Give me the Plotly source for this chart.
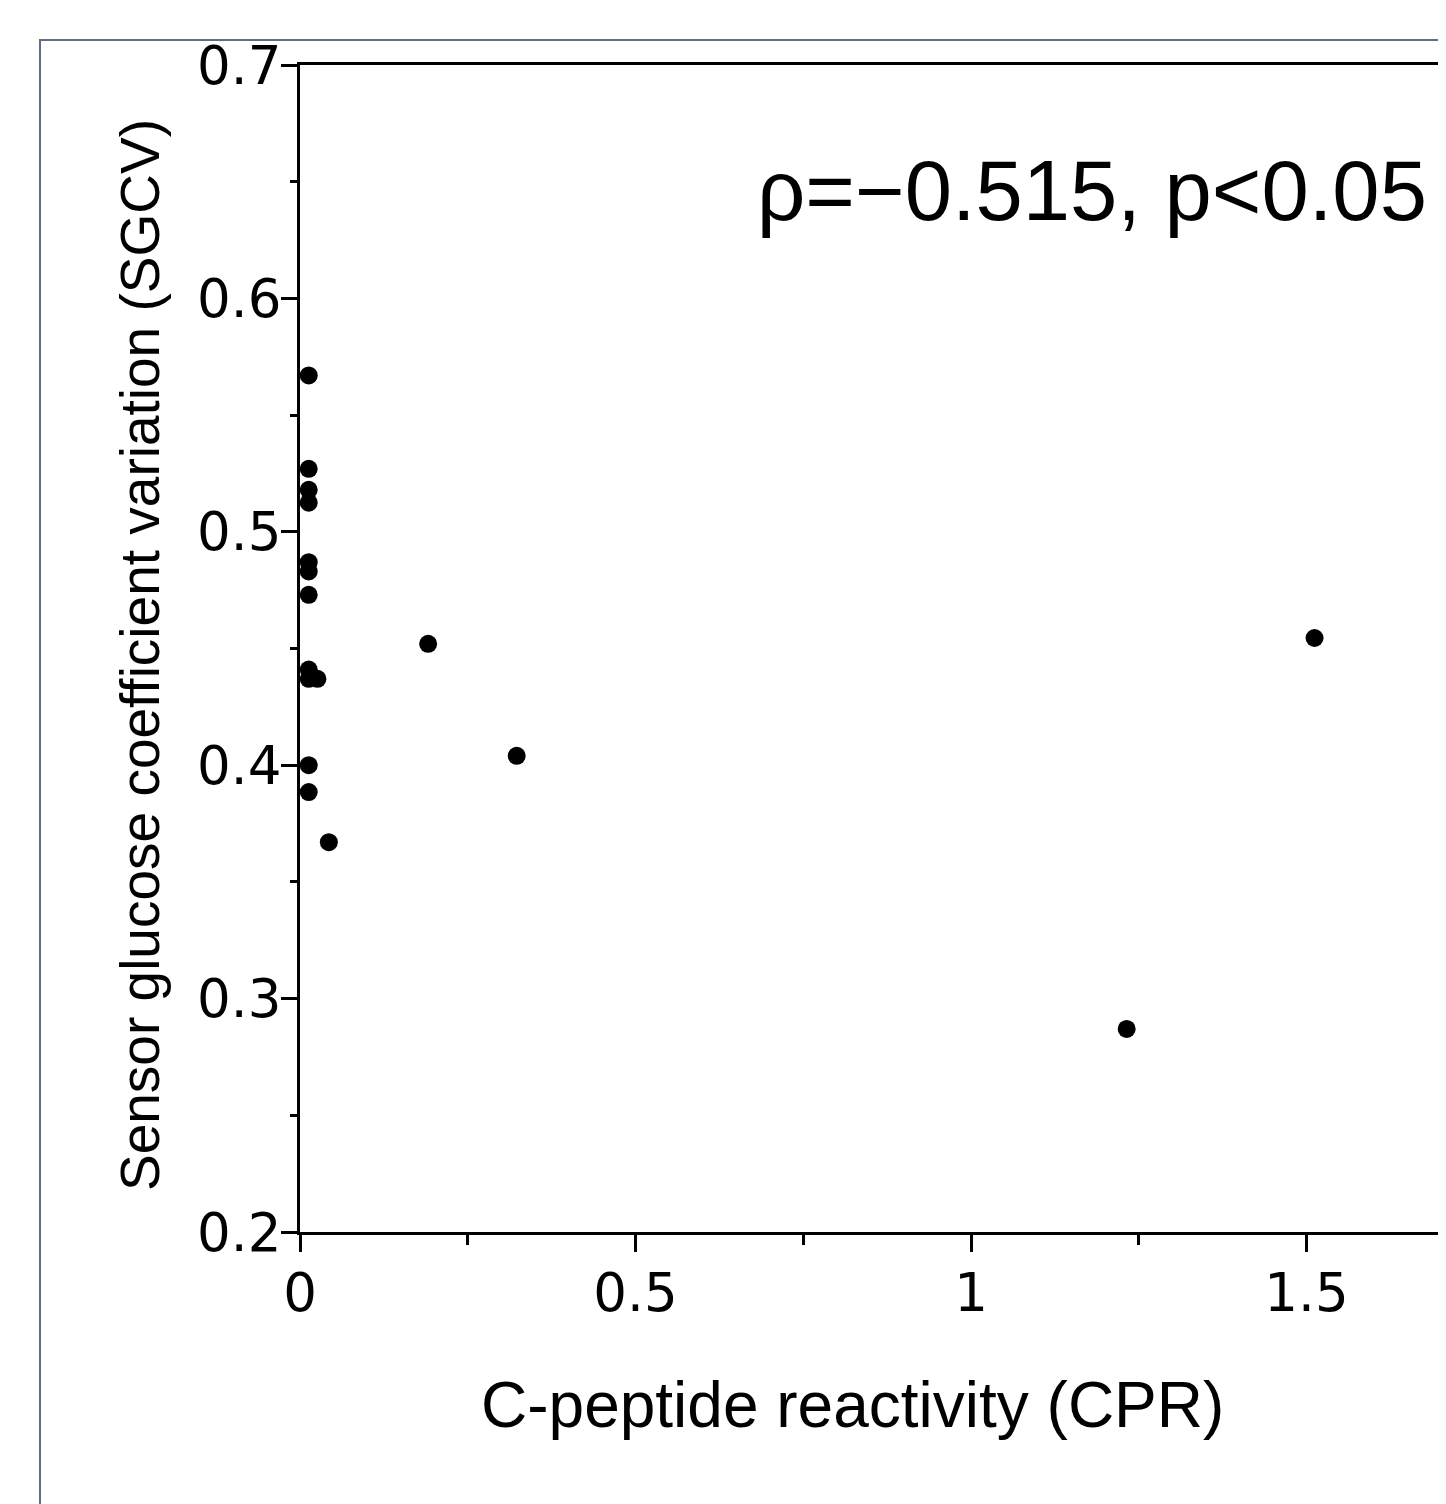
import plotly.graph_objects as go

# Data
cpr = [0.013, 0.013, 0.013, 0.013, 0.013, 0.013, 0.013, 0.013, 0.013, 0.026,
       0.013, 0.013, 0.043, 0.191, 0.323, 1.232, 1.512]
sgcv = [0.567, 0.527, 0.518, 0.5125, 0.487, 0.483, 0.473, 0.441, 0.437, 0.437,
        0.400, 0.3885, 0.367, 0.452, 0.404, 0.287, 0.4545]

x_ticks = [0, 0.5, 1, 1.5]
x_tick_text = ["0", "0.5", "1", "1.5"]
y_ticks = [0.2, 0.3, 0.4, 0.5, 0.6, 0.7]
y_tick_text = ["0.2", "0.3", "0.4", "0.5", "0.6", "0.7"]

x_title = "C-peptide reactivity (CPR)"
y_title = "Sensor glucose coefficient variation (SGCV)"
stat_text = "ρ=−0.515, p<0.05"

OFF = 8  # page body margin
W, H = 1446 - OFF, 1504 - OFF
L, R, T, B = 300 - OFF, 0, 65 - OFF, 1504 - 1232
pw = W - L - R
ph = H - T - B

def px(xpix):
    return (xpix - OFF - L) / pw

def py(ypix):
    return (H - B - (ypix - OFF)) / ph

fig = go.Figure()
fig.add_trace(go.Scatter(
    x=cpr, y=sgcv, mode="markers",
    marker=dict(color="black", size=18, line=dict(width=0)),
    showlegend=False, cliponaxis=False,
))

tickfont = dict(family="DejaVu Sans", size=53, color="black")

fig.update_layout(
    width=W, height=H,
    margin=dict(l=L, r=R, t=T, b=B, pad=0),
    paper_bgcolor="white", plot_bgcolor="white",
    xaxis=dict(
        range=[0, pw / 671.0], tickvals=x_ticks, ticktext=x_tick_text,
        showgrid=False, zeroline=False, showline=True, linecolor="black",
        linewidth=3, mirror=True, ticks="outside", ticklen=17, tickwidth=3,
        tickcolor="black", tickfont=tickfont, ticklabelstandoff=-5,
        minor=dict(tickvals=[0.25, 0.75, 1.25], ticks="outside", ticklen=10,
                   tickwidth=3, tickcolor="black", showgrid=False),
    ),
    yaxis=dict(
        range=[0.2, 0.7], tickvals=y_ticks, ticktext=y_tick_text,
        showgrid=False, zeroline=False, showline=True, linecolor="black",
        linewidth=3, mirror=False, ticks="outside", ticklen=16, tickwidth=3,
        tickcolor="black", tickfont=tickfont, ticklabelstandoff=-11,
        minor=dict(dtick=0.05, ticks="outside", ticklen=7,
                   tickwidth=3, tickcolor="black", showgrid=False),
    ),
    shapes=[dict(
        type="rect", xref="paper", yref="paper",
        x0=px(40), x1=px(1500), y0=py(1560), y1=py(40),
        line=dict(color="#5f6e88", width=2), fillcolor="rgba(0,0,0,0)",
        layer="below",
    )],
    annotations=[
        dict(text=x_title, xref="paper", yref="paper", x=px(852), y=py(1405),
             showarrow=False, xanchor="center", yanchor="middle",
             font=dict(family="Liberation Sans", size=64, color="black")),
        dict(text=y_title, xref="paper", yref="paper", x=px(140), y=py(655),
             showarrow=False, xanchor="center", yanchor="middle", textangle=-90,
             font=dict(family="Liberation Sans", size=55, color="black")),
        dict(text=stat_text, xref="paper", yref="paper", x=px(1092), y=py(190),
             showarrow=False, xanchor="center", yanchor="middle",
             font=dict(family="Liberation Sans", size=85, color="black")),
    ],
)

fig.write_html("out.html")
